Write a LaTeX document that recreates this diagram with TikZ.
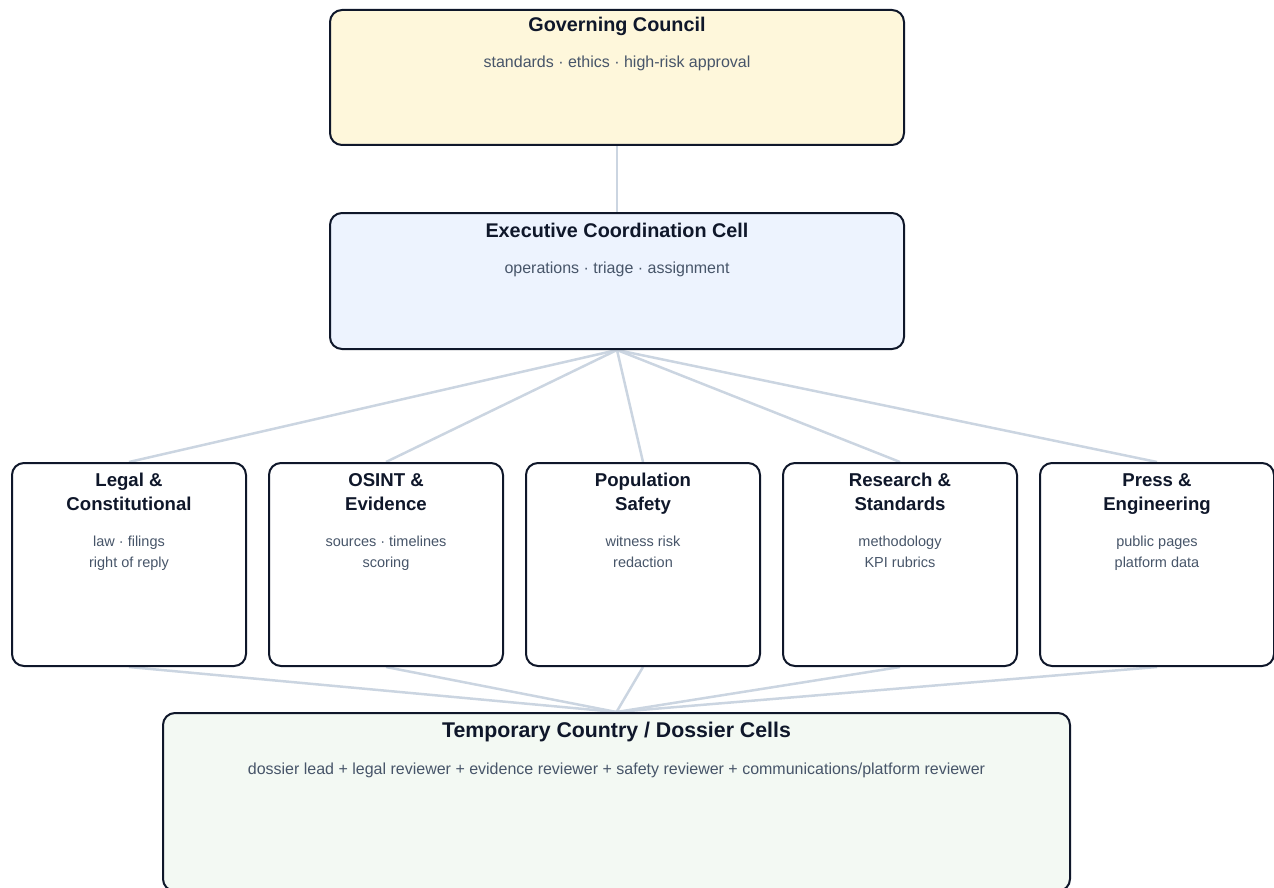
\documentclass[tikz,border=0pt]{standalone}
\usepackage{fontspec}
\setmainfont{Liberation Sans}
\usetikzlibrary{backgrounds}
\definecolor{ink}{HTML}{0F172A}
\definecolor{subink}{HTML}{475569}
\definecolor{edgec}{HTML}{CBD5E1}
\definecolor{fillgov}{HTML}{FEF7DB}
\definecolor{fillexec}{HTML}{EDF3FE}
\definecolor{filltemp}{HTML}{F3F9F3}
\tikzset{
  box/.style={draw=ink, line width=2pt, rounded corners=12pt, inner sep=0pt},
  ttl/.style={text=ink, font=\fontsize{19.8}{24}\selectfont\bfseries, align=center, anchor=base, inner sep=0pt},
  sub/.style={text=subink, font=\fontsize{16}{21}\selectfont, align=center, anchor=base, inner sep=0pt},
  ttlm/.style={ttl, font=\fontsize{18.6}{24}\selectfont\bfseries},
  subm/.style={sub, font=\fontsize{14.5}{21}\selectfont},
  link/.style={draw=edgec, line width=2.5pt}
}
\begin{document}
\begin{tikzpicture}[x=1pt,y=-1pt]
\useasboundingbox (0,0) rectangle (1274,888);
\clip (0,0) rectangle (1274,888);
% boxes
\node[box, fill=fillgov, minimum width=574pt, minimum height=135pt] (gov) at (617,77.5) {};
\node[box, fill=fillexec, minimum width=574pt, minimum height=136pt] (exec) at (617,281) {};
\node[box, fill=white, minimum width=234pt, minimum height=203pt] (legal) at (129,564.5) {};
\node[box, fill=white, minimum width=234pt, minimum height=203pt] (osint) at (386,564.5) {};
\node[box, fill=white, minimum width=234pt, minimum height=203pt] (safety) at (643,564.5) {};
\node[box, fill=white, minimum width=234pt, minimum height=203pt] (research) at (900,564.5) {};
\node[box, fill=white, minimum width=234pt, minimum height=203pt] (press) at (1157,564.5) {};
\node[box, fill=filltemp, minimum width=907pt, minimum height=178pt] (temp) at (616.5,802) {};
% texts
\node[ttl] (govt) at (617,32) {Governing Council};
\node[sub] (govs) at (617,68) {standards · ethics · high-risk approval};
\node[ttl] (exect) at (617,237) {Executive Coordination Cell};
\node[sub] (execs) at (617,273) {operations · triage · assignment};
\node[ttlm] (legalt) at (129,510) {Legal \&\\Constitutional};
\node[subm] (legals) at (129,567) {law · filings\\right of reply};
\node[ttlm] (osintt) at (386,510) {OSINT \&\\Evidence};
\node[subm] (osints) at (386,567) {sources · timelines\\scoring};
\node[ttlm] (safetyt) at (643,510) {Population\\Safety};
\node[subm] (safetys) at (643,567) {witness risk\\redaction};
\node[ttlm] (researcht) at (900,510) {Research \&\\Standards};
\node[subm] (researchs) at (900,567) {methodology\\KPI rubrics};
\node[ttlm] (presst) at (1157,510) {Press \&\\Engineering};
\node[subm] (presss) at (1157,567) {public pages\\platform data};
\node[ttl, font=\fontsize{21.3}{26}\selectfont\bfseries] (tempt) at (616.5,737) {Temporary Country / Dossier Cells};
\node[sub] (temps) at (616.5,774) {dossier lead + legal reviewer + evidence reviewer + safety reviewer + communications/platform reviewer};
% connectors
\begin{scope}[on background layer]
\draw[link] (gov.south) -- (exec.north);
\foreach \n in {legal,osint,safety,research,press}{
  \draw[link] (exec.south) -- (\n.north);
  \draw[link] (\n.south) -- (temp.north);
}
\end{scope}
\end{tikzpicture}
\end{document}
